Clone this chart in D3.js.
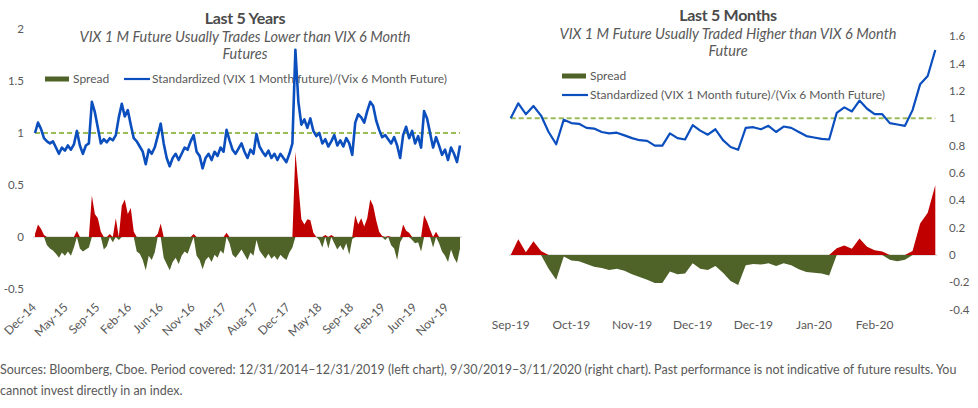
<!DOCTYPE html>
<html>
<head>
<meta charset="utf-8">
<script src="https://cdn.jsdelivr.net/npm/d3@7"></script>
<style>
  body { margin: 0; background: #fff; }
  svg { font-family: Lato, "Noto Sans", sans-serif; }
</style>
</head>
<body>
<script>
// left panel: 12/31/2014 - 12/31/2019, sampled about every 9 trading days
var leftRatio = [1.00,1.10,1.04,0.95,0.92,0.90,0.92,0.86,0.80,0.86,
  0.83,0.88,0.84,0.89,1.02,0.88,0.80,0.88,0.90,1.30,
  1.20,1.05,0.90,0.94,0.91,0.95,0.93,0.98,1.15,1.28,
  1.16,1.22,1.08,0.95,0.92,0.87,0.82,0.70,0.84,0.80,
  0.86,0.97,1.09,0.90,0.76,0.68,0.76,0.80,0.74,0.80,
  0.86,0.84,0.92,0.98,0.82,0.78,0.66,0.76,0.80,0.74,
  0.82,0.78,0.86,0.82,1.03,0.93,0.84,0.80,0.85,0.90,
  0.82,0.76,0.84,0.80,0.99,0.87,0.82,0.78,0.83,0.76,
  0.80,0.74,0.80,0.76,0.72,0.80,0.90,1.80,1.30,1.08,
  1.13,1.05,1.14,1.02,0.97,1.00,0.90,0.94,0.87,0.92,
  0.98,0.88,0.93,0.87,0.95,0.90,0.79,1.10,1.18,1.15,
  1.10,1.21,1.30,1.26,1.12,1.03,0.96,0.98,0.94,0.90,
  0.96,0.88,0.76,0.98,1.06,0.95,1.02,0.90,0.97,0.86,
  1.21,1.14,1.00,0.86,0.96,0.88,0.79,0.84,0.74,0.86,
  0.80,0.72,0.88];
var leftSpread = [0.03,0.12,0.08,0.02,-0.08,-0.11,-0.13,-0.16,-0.20,-0.15,
  -0.18,-0.14,-0.18,-0.10,0.06,-0.11,-0.14,-0.12,-0.10,0.40,
  0.22,0.18,0.05,-0.12,-0.09,0.03,-0.05,0.18,-0.03,0.30,
  0.36,0.22,0.28,0.05,-0.14,-0.16,-0.22,-0.32,-0.18,-0.22,
  -0.15,0.03,0.13,-0.20,-0.26,-0.32,-0.24,-0.20,-0.26,-0.18,
  -0.14,-0.16,-0.08,0.03,-0.18,-0.22,-0.31,-0.22,-0.19,-0.24,
  -0.17,-0.20,-0.13,-0.16,0.04,-0.06,-0.17,-0.20,-0.16,-0.12,
  -0.17,-0.22,-0.15,-0.18,-0.03,-0.13,-0.17,-0.21,-0.16,-0.21,
  -0.18,-0.22,-0.17,-0.20,-0.22,-0.15,-0.10,0.82,0.50,0.17,
  0.12,0.17,0.16,0.04,0.00,-0.03,-0.10,0.02,-0.11,0.02,
  -0.06,-0.12,-0.08,-0.13,-0.06,-0.17,-0.02,0.21,0.12,0.18,
  0.10,0.18,0.36,0.30,0.16,0.05,0.01,-0.03,0.01,-0.08,
  -0.11,-0.22,-0.05,0.12,0.06,0.04,-0.03,-0.06,-0.05,-0.14,
  0.21,0.15,0.07,-0.10,0.05,-0.06,-0.14,-0.18,-0.24,-0.12,
  -0.20,-0.25,-0.11];
var leftTickLabels = ["Dec-14","May-15","Sep-15","Feb-16","Jun-16","Nov-16","Mar-17",
  "Aug-17","Dec-17","May-18","Sep-18","Feb-19","Jun-19","Nov-19"];
var leftYTicks = [2, 1.5, 1, 0.5, 0, -0.5];

// right panel: 9/30/2019 - 3/11/2020, every 2nd trading day
var rightRatio = [1.00,1.11,1.03,1.09,1.02,0.90,0.81,0.99,0.965,0.96,
  0.93,0.925,0.90,0.89,0.895,0.875,0.855,0.84,0.835,0.80,
  0.80,0.89,0.855,0.845,0.95,0.91,0.88,0.92,0.84,0.79,
  0.77,0.93,0.935,0.92,0.945,0.90,0.94,0.93,0.90,0.87,
  0.86,0.85,0.845,1.04,1.08,1.05,1.13,1.07,1.03,1.03,
  0.965,0.955,0.945,1.06,1.25,1.31,1.50];
var rightSpread = [0.00,0.115,0.02,0.10,0.03,-0.10,-0.18,-0.01,-0.04,-0.045,
  -0.066,-0.085,-0.095,-0.11,-0.10,-0.115,-0.14,-0.16,-0.18,-0.205,
  -0.205,-0.12,-0.14,-0.135,-0.06,-0.10,-0.11,-0.08,-0.13,-0.19,
  -0.22,-0.075,-0.065,-0.07,-0.06,-0.08,-0.06,-0.075,-0.105,-0.125,
  -0.13,-0.135,-0.15,0.05,0.07,0.045,0.12,0.06,0.035,0.025,
  -0.035,-0.045,-0.035,0.03,0.23,0.31,0.51];
var rightTickLabels = ["Sep-19","Oct-19","Nov-19","Dec-19","Dec-19","Jan-20","Feb-20"];
var rightYTicks = [1.6, 1.4, 1.2, 1, 0.8, 0.6, 0.4, 0.2, 0, -0.2, -0.4];

var blue = "#0B4EBE", red = "#C00000", green = "#4F6228",
    dash = "#9BBB59", grey = "#595959";

var svg = d3.select("body").append("svg")
    .attr("width", 978).attr("height", 408);

// ---------- left chart ----------
var xL = d3.scaleLinear().domain([0, leftRatio.length - 1]).range([35, 460]);
var yL = d3.scaleLinear().domain([-0.5, 2]).range([289, 29]);
var leftTickStep = 10.6; // label every ~94 trading days

// ---------- right chart ----------
var xR = d3.scaleLinear().domain([0, rightRatio.length - 1]).range([510.7, 935.3]);
var yR = d3.scaleLinear().domain([-0.4, 1.6]).range([309.7, 36.3]);

function titles(cx, y0, title, sub1, sub2) {
  svg.append("text").attr("x", cx).attr("y", y0).attr("text-anchor", "middle")
    .attr("font-size", 16).attr("font-weight", "bold").attr("fill", "#4a4a4a")
    .attr("letter-spacing", -0.3).text(title);
  svg.append("text").attr("x", cx).attr("y", y0 + 18).attr("text-anchor", "middle")
    .attr("font-size", 14.5).attr("font-style", "italic").attr("fill", grey).text(sub1);
  svg.append("text").attr("x", cx).attr("y", y0 + 35).attr("text-anchor", "middle")
    .attr("font-size", 14.5).attr("font-style", "italic").attr("fill", grey).text(sub2);
}

function legendItem(x, y, kind, label) {
  if (kind == "bar")
    svg.append("rect").attr("x", x).attr("y", y - 2.5).attr("width", 24).attr("height", 5).attr("fill", green);
  else
    svg.append("line").attr("x1", x).attr("x2", x + 26).attr("y1", y).attr("y2", y)
      .attr("stroke", blue).attr("stroke-width", 2.2);
  svg.append("text").attr("x", x + 28).attr("y", y + 4).attr("font-size", 12)
    .attr("fill", grey).text(label);
}

function plot(x, y, ratio, spread, lw) {
  var g = svg.append("g");
  g.append("line").attr("x1", x.range()[0] - 2).attr("x2", x.range()[1] + 2)
    .attr("y1", y(0)).attr("y2", y(0)).attr("stroke", "#d9d9d9").attr("stroke-width", 1.5);
  var pos = d3.area().x((d, i) => x(i)).y0(y(0)).y1(d => y(Math.max(0, d)));
  var neg = d3.area().x((d, i) => x(i)).y0(y(0)).y1(d => y(Math.min(0, d)));
  g.append("path").attr("d", pos(spread)).attr("fill", red);
  g.append("path").attr("d", neg(spread)).attr("fill", green);
  g.append("line").attr("x1", x.range()[0]).attr("x2", x.range()[1])
    .attr("y1", y(1)).attr("y2", y(1)).attr("stroke", dash).attr("stroke-width", 2)
    .attr("stroke-dasharray", "5,3");
  var line = d3.line().x((d, i) => x(i)).y(d => y(d));
  g.append("path").attr("d", line(ratio)).attr("fill", "none")
    .attr("stroke", blue).attr("stroke-width", lw).attr("stroke-linejoin", "round");
}

titles(245, 24, "Last 5 Years", "VIX 1 M Future Usually Trades Lower than VIX 6 Month", "Futures");
titles(728, 21, "Last 5 Months", "VIX 1 M Future Usually Traded Higher than VIX 6 Month", "Future");

legendItem(45, 79, "bar", "Spread");
legendItem(124, 79, "line", "Standardized (VIX 1 Month future)/(Vix 6 Month Future)");
legendItem(562, 76, "bar", "Spread");
legendItem(562, 95, "line", "Standardized (VIX 1 Month future)/(Vix 6 Month Future)");

plot(xL, yL, leftRatio, leftSpread, 2.6);
plot(xR, yR, rightRatio, rightSpread, 2.2);

// left y axis labels
svg.append("g").selectAll("text").data(leftYTicks).join("text")
  .attr("x", 24).attr("y", d => yL(d) + 4).attr("text-anchor", "end")
  .attr("font-size", 11.5).attr("fill", grey).text(d => d);

// right y axis labels
svg.append("g").selectAll("text").data(rightYTicks).join("text")
  .attr("x", 949).attr("y", d => yR(d) + 4).attr("text-anchor", "start")
  .attr("font-size", 11.5).attr("fill", grey).text(d => d);

// left x labels, rotated
svg.append("g").selectAll("text").data(leftTickLabels).join("text")
  .attr("transform", (d, i) => "translate(" + (xL(i * leftTickStep) + 2) + ",308) rotate(-45)")
  .attr("text-anchor", "end").attr("font-size", 12).attr("fill", grey).text(d => d);

// right x labels
svg.append("g").selectAll("text").data(rightTickLabels).join("text")
  .attr("x", (d, i) => xR(i * 8)).attr("y", 329).attr("text-anchor", "middle")
  .attr("font-size", 12).attr("fill", grey).text(d => d);

// footnote
svg.append("text").attr("x", 0).attr("y", 374).attr("font-size", 12.5).attr("fill", grey)
  .text("Sources: Bloomberg, Cboe. Period covered: 12/31/2014\u201312/31/2019 (left chart), 9/30/2019\u20133/11/2020 (right chart). Past performance is not indicative of future results. You");
svg.append("text").attr("x", 0).attr("y", 395).attr("font-size", 12.5).attr("fill", grey)
  .text("cannot invest directly in an index.");
</script>
</body>
</html>
